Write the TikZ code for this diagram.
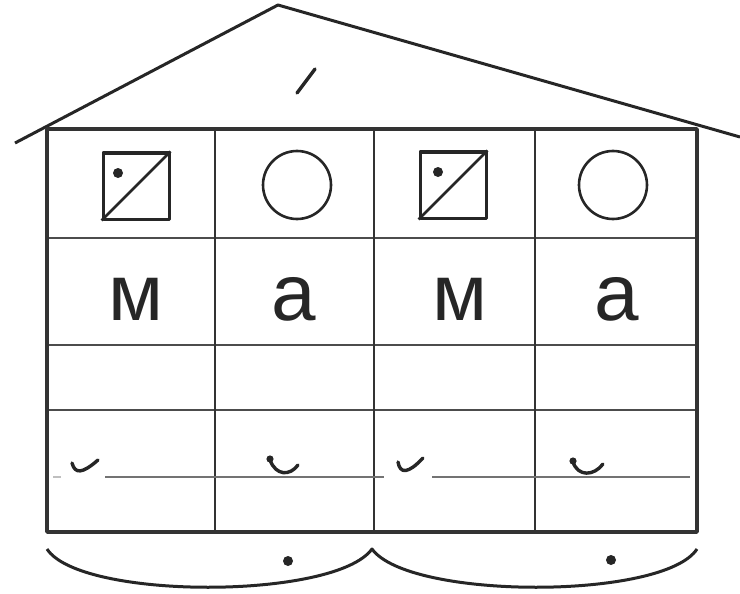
\documentclass[tikz,border=0pt]{standalone}
\usepackage{fontspec}
\newfontfamily\bukvy{Liberation Sans}
\begin{document}
\begin{tikzpicture}[x=1pt,y=-1pt,line join=round,
  ramka/.style={line width=3.6pt,draw=black!80},
  liniya/.style={line width=2.4pt,draw=black!70},
  kvadrat/.style={draw=black!85,line width=3pt,minimum size=66pt,inner sep=0pt},
  krug/.style={draw=black!85,circle,line width=2.6pt,minimum size=68pt,inner sep=0pt},
  bukva/.style={font=\bukvy\fontsize{80}{80}\selectfont,text=black!85,anchor=base,inner sep=0pt},
  znak/.style={line width=3.4pt,line cap=round,draw=black!85}]
\useasboundingbox (0,0) rectangle (740,594);
        % roof
        \draw [line width=3pt,draw=black!85] (15,143) -- (278,5) -- (740,137);
        \draw [znak] (297,93) -- (315,69);
        % table
        \draw [liniya] (47,238) -- (697,238);
        \draw [liniya] (47,345) -- (697,345);
        \draw [liniya] (47,410) -- (697,410);
        \foreach \x in {215,374,535}
          \draw [line width=2pt,draw=black!80] (\x,129) -- (\x,532);
        \draw [ramka] (47,129) rectangle (697,532);
        \draw [line width=2pt,draw=black!55] (105,477) -- (384,477);
        \draw [line width=2pt,draw=black!55] (432,477) -- (690,477);
        \draw [line width=1.2pt,draw=black!25] (53,477) -- (61,477);
        % symbols
        \node [kvadrat] (kv1) at (136,186) {};
        \node [krug] (kr1) at (297,185) {};
        \node [kvadrat] (kv2) at (453,185) {};
        \node [krug] (kr2) at (613,185) {};
        \draw [line width=2.6pt,draw=black!85] (kv1.south west) -- (kv1.north east);
        \draw [line width=2.6pt,draw=black!85] (kv2.south west) -- (kv2.north east);
        \fill [black!85] (118,173) circle [radius=5pt];
        \fill [black!85] (438,172) circle [radius=5pt];
        % letters
        \node [bukva] (m1) at (136,320) {\bukvy м};
        \node [bukva] (a1) at (294,320) {\bukvy а};
        \node [bukva] (m2) at (460,320) {\bukvy м};
        \node [bukva] (a2) at (617,320) {\bukvy а};
        % marks
        \draw [znak] (72,463) .. controls (75,474) and (82,474) .. (98,460);
        \fill [black!85] (270,459) circle [radius=3.6pt];
        \draw [znak] (270,460) .. controls (276,476) and (290,476) .. (298,465);
        \draw [znak] (398,462) .. controls (400,474) and (408,474) .. (423,458);
        \fill [black!85] (573,461) circle [radius=3.6pt];
        \draw [znak] (573,462) .. controls (578,477) and (594,476) .. (603,464);
        % arcs under the word
        \draw [line width=3pt,draw=black!85] (47,549) .. controls (80,600) and (335,600) .. (372,549)
          .. controls (409,600) and (664,600) .. (697,549);
        \fill [black!85] (288,561) circle [radius=5pt];
        \fill [black!85] (611,560) circle [radius=5pt];
\end{tikzpicture}
\end{document}
